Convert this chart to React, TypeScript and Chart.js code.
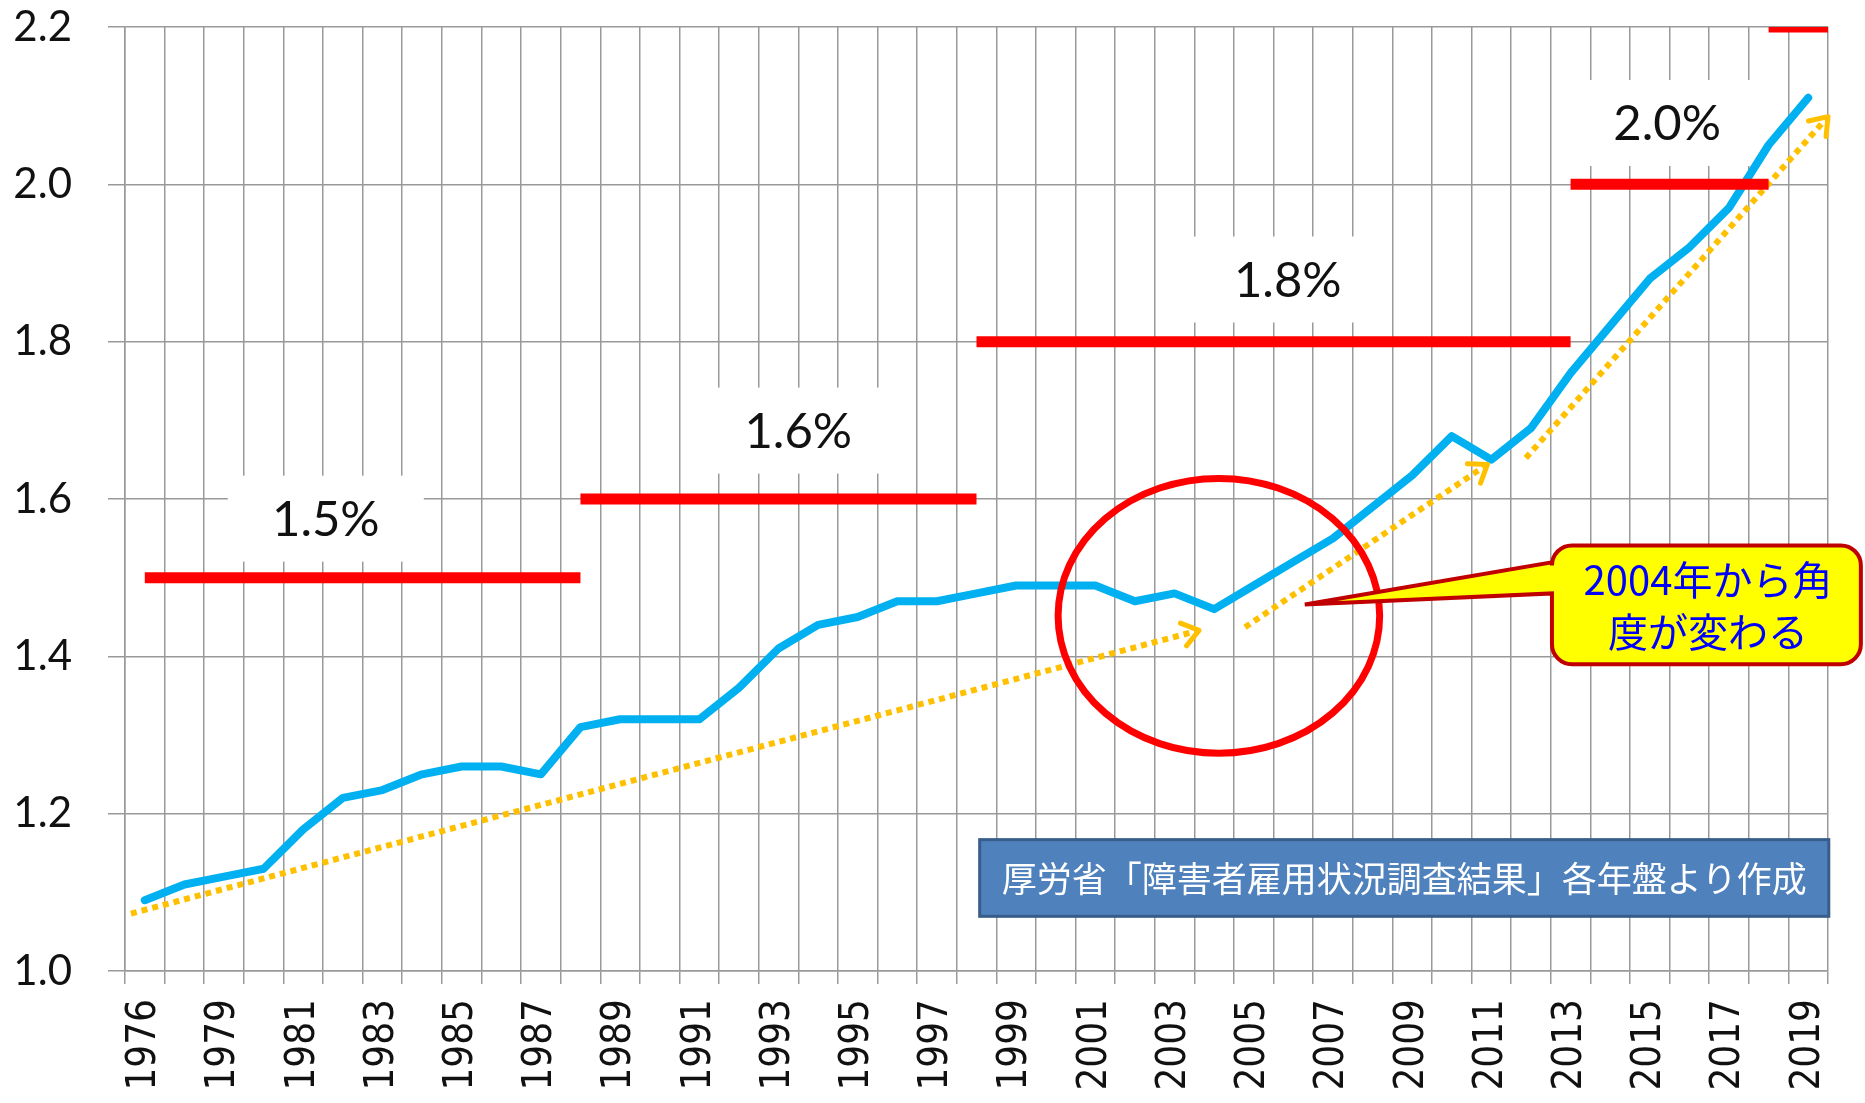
import React, { useEffect, useRef } from 'react';
import { Chart, registerables } from 'chart.js';

Chart.register(...registerables);

// Category labels (every other one is shown on the axis)
const years = [
  '1976', '1978', '1979', '1980', '1981', '1982', '1983', '1984', '1985', '1986',
  '1987', '1988', '1989', '1990', '1991', '1992', '1993', '1994', '1995', '1996',
  '1997', '1998', '1999', '2000', '2001', '2002', '2003', '2004', '2005', '2006',
  '2007', '2008', '2009', '2010', '2011', '2012', '2013', '2014', '2015', '2016',
  '2017', '2018', '2019',
];

// Actual employment rate of persons with disabilities (%)
const rates = [
  1.09, 1.11, 1.12, 1.13, 1.18, 1.22, 1.23, 1.25, 1.26, 1.26,
  1.25, 1.31, 1.32, 1.32, 1.32, 1.36, 1.41, 1.44, 1.45, 1.47,
  1.47, 1.48, 1.49, 1.49, 1.49, 1.47, 1.48, 1.46, 1.49, 1.52,
  1.55, 1.59, 1.63, 1.68, 1.65, 1.69, 1.76, 1.82, 1.88, 1.92,
  1.97, 2.05, 2.11,
];

// Legal employment rate periods
const legalRates = [1.5, 1.6, 1.8, 2.0, 2.2];
const legalFrom = ['1976', '1988', '1998', '2013', '2018'];
const legalTo: (string | null)[] = ['1988', '1998', '2013', '2018', null];

// Legal rate labels (position in category index / value space)
const rateLabels = ['1.5%', '1.6%', '1.8%', '2.0%'];
const rateLabelX = [4.57, 16.5, 28.86, 38.44];
const rateLabelY = [1.575, 1.687, 1.879, 2.078];

// Trend arrows (category index / value space)
const trendFromX = [-0.35, 27.78, 34.87];
const trendFromY = [1.073, 1.437, 1.652];
const trendToX = [26.62, 33.9, 42.5];
const trendToY = [1.433, 1.644, 2.086];

// Annotation texts
const calloutLines = ['2004年から角', '度が変わる'];
const sourceText = '厚労省「障害者雇用状況調査結果」各年盤より作成';

const Y_MIN = 1.0;
const Y_MAX = 2.2;

const annotPlugin = {
  id: 'annot',
  beforeDatasetsDraw(chart: any) {
    const { ctx } = chart;
    const xs = chart.scales.x2;
    const ys = chart.scales.y;
    ctx.save();
    ctx.font = '49px Lato';
    ctx.textAlign = 'center';
    ctx.textBaseline = 'alphabetic';
    rateLabels.forEach((t, i) => {
      const px = xs.getPixelForValue(rateLabelX[i]);
      const py = ys.getPixelForValue(rateLabelY[i]);
      ctx.fillStyle = '#ffffff';
      ctx.fillRect(px - 98, py - 43, 196, 86);
      ctx.fillStyle = '#111111';
      ctx.fillText(t, px, py + 17.5);
    });
    ctx.restore();
  },
  afterDatasetsDraw(chart: any) {
    const { ctx } = chart;
    const xs = chart.scales.x2;
    const ys = chart.scales.y;
    const X = (v: number) => xs.getPixelForValue(v);
    const Y = (v: number) => ys.getPixelForValue(v);
    ctx.save();

    // arrow heads
    ctx.strokeStyle = '#FFC000';
    ctx.lineWidth = 5;
    ctx.lineCap = 'round';
    ctx.lineJoin = 'round';
    trendToX.forEach((_, i) => {
      const x0 = X(trendFromX[i]);
      const y0 = Y(trendFromY[i]);
      const x1 = X(trendToX[i]);
      const y1 = Y(trendToY[i]);
      const a = Math.atan2(y1 - y0, x1 - x0);
      const L = 20;
      const s = Math.PI / 5;
      ctx.beginPath();
      ctx.moveTo(x1 - L * Math.cos(a - s), y1 - L * Math.sin(a - s));
      ctx.lineTo(x1, y1);
      ctx.lineTo(x1 - L * Math.cos(a + s), y1 - L * Math.sin(a + s));
      ctx.stroke();
    });

    // ellipse
    const ecx = X(27.12);
    const ecy = Y(1.4515);
    const erx = Math.abs(X(27.12 + 4.06) - ecx);
    const ery = Math.abs(Y(1.4515 + 0.1747) - ecy);
    ctx.strokeStyle = '#FF0000';
    ctx.lineWidth = 7;
    ctx.beginPath();
    ctx.ellipse(ecx, ecy, erx, ery, 0, 0, Math.PI * 2);
    ctx.stroke();

    // callout
    const bl = X(35.53);
    const br = X(43.33);
    const bt = Y(1.541);
    const bb = Y(1.39);
    const tipX = X(29.29);
    const tipY = Y(1.466);
    const wTop = Y(1.5195);
    const wBot = Y(1.48);
    const r = 20;
    ctx.beginPath();
    ctx.moveTo(bl + r, bt);
    ctx.lineTo(br - r, bt);
    ctx.arcTo(br, bt, br, bt + r, r);
    ctx.lineTo(br, bb - r);
    ctx.arcTo(br, bb, br - r, bb, r);
    ctx.lineTo(bl + r, bb);
    ctx.arcTo(bl, bb, bl, bb - r, r);
    ctx.lineTo(bl, wBot);
    ctx.lineTo(tipX, tipY);
    ctx.lineTo(bl, wTop);
    ctx.lineTo(bl, bt + r);
    ctx.arcTo(bl, bt, bl + r, bt, r);
    ctx.closePath();
    ctx.fillStyle = '#FFFF00';
    ctx.fill();
    ctx.strokeStyle = '#C00000';
    ctx.lineWidth = 4;
    ctx.lineJoin = 'miter';
    ctx.stroke();
    ctx.fillStyle = '#0000FF';
    ctx.font = "40px 'Noto Sans CJK JP'";
    ctx.textAlign = 'center';
    ctx.textBaseline = 'middle';
    const tcx = X(39.47);
    ctx.fillText(calloutLines[0], tcx, Y(1.497));
    ctx.fillText(calloutLines[1], tcx, Y(1.431));

    // source box
    const sl = X(21.08);
    const sr = X(42.52);
    const st = Y(1.167);
    const sb = Y(1.0695);
    ctx.fillStyle = '#4F81BD';
    ctx.fillRect(sl, st, sr - sl, sb - st);
    ctx.strokeStyle = '#385D8A';
    ctx.lineWidth = 3;
    ctx.strokeRect(sl, st, sr - sl, sb - st);
    ctx.fillStyle = '#FFFFFF';
    ctx.font = "35px 'Noto Sans CJK JP'";
    ctx.fillText(sourceText, (sl + sr) / 2, (st + sb) / 2 + 1);

    ctx.restore();
  },
};

export default function App() {
  const ref = useRef<HTMLCanvasElement | null>(null);

  useEffect(() => {
    const canvas = ref.current;
    if (!canvas) return;

    const legalDatasets = legalRates.map((rate, i) => {
      const from = years.indexOf(legalFrom[i]);
      const toLabel = legalTo[i];
      const to = toLabel === null ? years.length - 0.5 : years.indexOf(toLabel);
      return {
        type: 'line' as const,
        xAxisID: 'x2',
        data: [
          { x: from, y: rate },
          { x: to, y: rate },
        ],
        borderColor: '#FF0000',
        borderWidth: 11,
        borderCapStyle: 'butt' as const,
        pointRadius: 0,
      };
    });

    const trendDatasets = trendFromX.map((_, i) => ({
      type: 'line' as const,
      xAxisID: 'x2',
      data: [
        { x: trendFromX[i], y: trendFromY[i] },
        { x: trendToX[i], y: trendToY[i] },
      ],
      borderColor: '#FFC000',
      borderWidth: 6,
      borderDash: [6, 5],
      borderCapStyle: 'butt' as const,
      pointRadius: 0,
    }));

    const chart = new Chart(canvas, {
      type: 'line',
      data: {
        labels: years,
        datasets: [
          ...legalDatasets,
          ...trendDatasets,
          {
            type: 'line',
            xAxisID: 'x',
            data: rates,
            borderColor: '#00B0F0',
            borderWidth: 8,
            borderJoinStyle: 'round',
            borderCapStyle: 'round',
            pointRadius: 0,
            tension: 0,
          },
        ] as any,
      },
      options: {
        responsive: false,
        animation: false,
        events: [],
        layout: { padding: { top: 27, right: 37, left: 0, bottom: 0 } },
        plugins: {
          legend: { display: false },
          tooltip: { enabled: false },
        },
        elements: { point: { radius: 0 }, line: { tension: 0 } },
        scales: {
          x: {
            type: 'category',
            offset: true,
            grid: {
              offset: true,
              color: '#999999',
              lineWidth: 1.5,
              tickLength: 13,
            },
            border: { color: '#999999', width: 1.5 },
            ticks: {
              autoSkip: false,
              minRotation: 90,
              maxRotation: 90,
              padding: 15,
              color: '#111111',
              font: { family: "'DejaVu Sans Condensed', 'DejaVu Sans'", size: 40 },
              callback: (_v: any, i: number) => (i % 2 === 0 ? years[i] : ''),
            },
            afterFit: (s: any) => {
              s.height = 132;
              s.paddingLeft = 0;
              s.paddingRight = 0;
              s.paddingTop = 0;
              s.paddingBottom = 0;
            },
          },
          x2: {
            type: 'linear',
            display: false,
            min: -0.5,
            max: years.length - 0.5,
          },
          y: {
            min: Y_MIN,
            max: Y_MAX,
            ticks: {
              stepSize: 0.2,
              padding: 36,
              color: '#111111',
              font: { family: 'Lato', size: 42 },
              callback: (v: any) => Number(v).toFixed(1),
            },
            grid: { color: '#999999', lineWidth: 1.5, tickLength: 17 },
            border: { color: '#999999', width: 1.5 },
            afterFit: (s: any) => {
              s.width = 125;
              s.paddingLeft = 0;
              s.paddingRight = 0;
              s.paddingTop = 0;
              s.paddingBottom = 0;
            },
          },
        },
      } as any,
      plugins: [annotPlugin],
    });

    return () => chart.destroy();
  }, []);

  return (
    <div style={{ position: 'fixed', left: 0, top: 0, width: 1865, height: 1103, background: '#fff' }}>
      <canvas ref={ref} width={1865} height={1103} style={{ width: 1865, height: 1103, display: 'block' }} />
    </div>
  );
}
